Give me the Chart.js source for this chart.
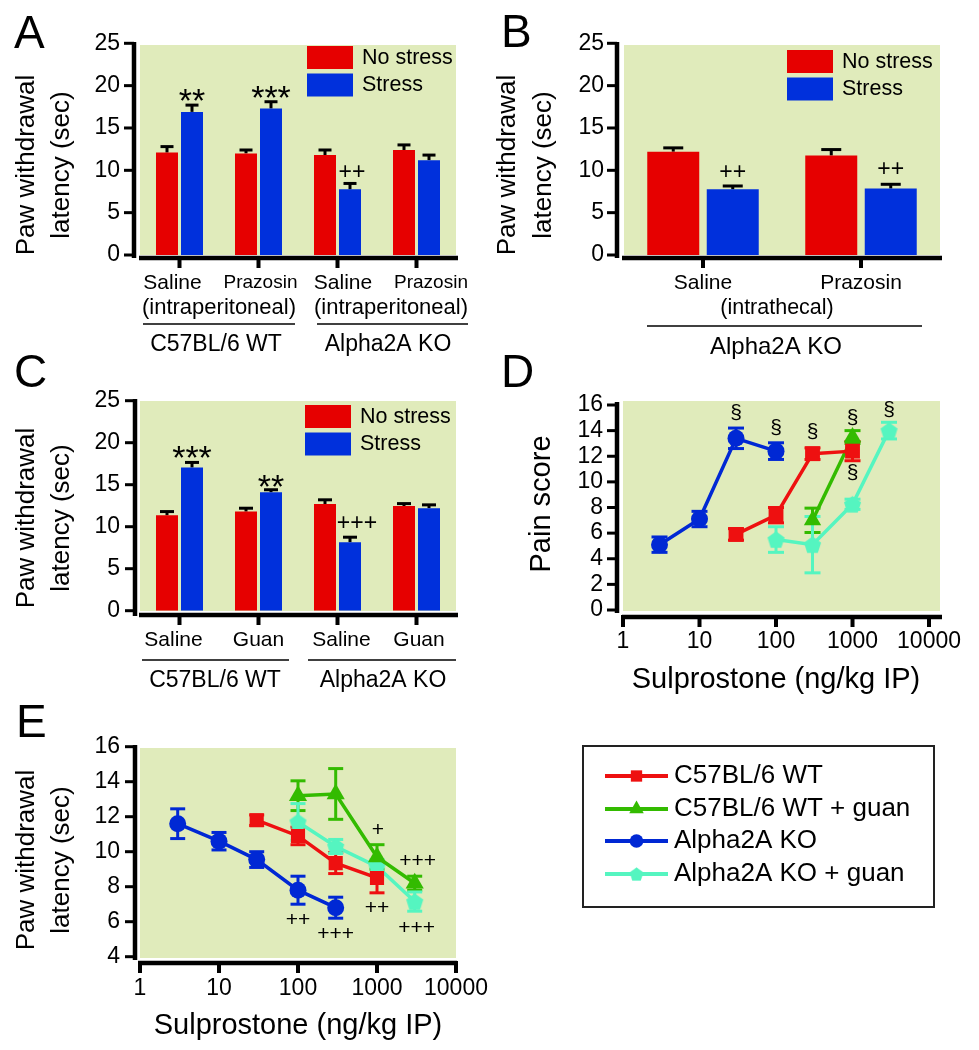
<!DOCTYPE html>
<html>
<head>
<meta charset="utf-8">
<script src="https://cdn.jsdelivr.net/npm/chart.js@4.4.1/dist/chart.umd.min.js"></script>
<style>
  html, body { margin: 0; padding: 0; background: #fff; }
  #fig { position: relative; width: 979px; height: 1050px; background: #fff; overflow: hidden; }
</style>
</head>
<body>
<div id="fig"></div>
<script>
// ---- values ----
const catsA = ['Saline', 'Prazosin', 'Saline', 'Prazosin'];
const noStressA = [12.1, 12.0, 11.8, 12.4];
const noStressErrA = [0.7, 0.4, 0.6, 0.6];
const stressA = [16.9, 17.3, 7.75, 11.2];
const stressErrA = [0.8, 0.8, 0.7, 0.6];

const catsB = ['Saline', 'Prazosin'];
const noStressB = [12.2, 11.75];
const noStressErrB = [0.45, 0.7];
const stressB = [7.75, 7.85];
const stressErrB = [0.4, 0.5];

const catsC = ['Saline', 'Guan', 'Saline', 'Guan'];
const noStressC = [11.35, 11.8, 12.7, 12.45];
const noStressErrC = [0.45, 0.4, 0.5, 0.3];
const stressC = [17.05, 14.1, 8.15, 12.2];
const stressErrC = [0.6, 0.3, 0.6, 0.4];

const doseTicks = [1, 10, 100, 1000, 10000];

// D - pain score
const doseD_wt = [30, 100, 300, 1000];
const painD_wt = [5.9, 7.4, 12.2, 12.4];
const painErrD_wt = [0.45, 0.6, 0.45, 0.75];
const doseD_wtGuan = [300, 1000];
const painD_wtGuan = [7.0, 13.5];
const painErrD_wtGuan = [0.95, 0.5];
const doseD_ko = [3, 10, 30, 100];
const painD_ko = [5.1, 7.1, 13.4, 12.4];
const painErrD_ko = [0.6, 0.6, 0.8, 0.65];
const doseD_koGuan = [100, 300, 1000, 3000];
const painD_koGuan = [5.5, 5.1, 8.25, 14.0];
const painErrD_koGuan = [1.0, 2.2, 0.4, 0.65];

// E - withdrawal latency
const doseE_wt = [30, 100, 300, 1000];
const latE_wt = [11.8, 10.9, 9.35, 8.5];
const latErrE_wt = [0.3, 0.5, 0.6, 0.85];
const doseE_wtGuan = [100, 300, 1000, 3000];
const latE_wtGuan = [13.2, 13.3, 9.7, 8.2];
const latErrE_wtGuan = [0.85, 1.45, 0.7, 0.4];
const doseE_ko = [3, 10, 30, 100, 300];
const latE_ko = [11.6, 10.6, 9.55, 7.8, 6.8];
const latErrE_ko = [0.85, 0.5, 0.45, 0.8, 0.6];
const doseE_koGuan = [100, 300, 1000, 3000];
const latE_koGuan = [11.7, 10.3, 9.15, 7.15];
const latErrE_koGuan = [1.05, 0.4, 0.4, 0.55];

// ---- styling ----
const FONT = "'Liberation Sans', Arial, Helvetica, sans-serif";
const PLOT_BG = '#e0ebbb';
const RED = '#e60000';
const BLUE = '#0030dc';
const RED_L = '#ee1010';
const GREEN_L = '#33bb00';
const BLUE_L = '#0028d4';
const CYAN_L = '#55f5c0';
const GLYPH_MID = { '*': 0.58, '+': 0.34, '§': 0.27 };

Chart.defaults.font.family = FONT;
Chart.defaults.color = '#000';

const pts = (xs, ys) => xs.map((x, i) => ({ x, y: ys[i] }));

function pentagon(color, size) {
  const c = document.createElement('canvas');
  c.width = c.height = size;
  const g = c.getContext('2d');
  const r = size / 2 - 0.5, cx = size / 2, cy = size / 2 + r * 0.095;
  g.fillStyle = color;
  g.beginPath();
  for (let k = 0; k < 5; k++) {
    const a = -Math.PI / 2 + k * 2 * Math.PI / 5;
    const px = cx + r * Math.cos(a), py = cy + r * Math.sin(a);
    if (k) g.lineTo(px, py); else g.moveTo(px, py);
  }
  g.closePath();
  g.fill();
  return c;
}
const PENTA = pentagon(CYAN_L, 19);

function drawMarker(ctx, style, r, x, y, color) {
  if (style instanceof HTMLCanvasElement) {
    const w = style.width * 0.8, h = style.height * 0.8;
    ctx.drawImage(style, x - w / 2, y - h / 2, w, h);
    return;
  }
  ctx.fillStyle = color;
  ctx.beginPath();
  if (style === 'circle') ctx.arc(x, y, r, 0, Math.PI * 2);
  else if (style === 'rect') { const s = r * Math.SQRT1_2; ctx.rect(x - s, y - s, 2 * s, 2 * s); }
  else if (style === 'triangle') {
    for (let k = 0; k < 3; k++) {
      const a = k * 2 * Math.PI / 3;
      const px = x + Math.sin(a) * r, py = y - Math.cos(a) * r;
      if (k) ctx.lineTo(px, py); else ctx.moveTo(px, py);
    }
    ctx.closePath();
  }
  ctx.fill();
}

function seg(ctx, x1, y1, x2, y2) {
  ctx.beginPath(); ctx.moveTo(x1, y1); ctx.lineTo(x2, y2); ctx.stroke();
}
function label(ctx, s, x, y, size, align, base) {
  ctx.font = size + 'px ' + FONT;
  ctx.textAlign = align || 'center';
  ctx.textBaseline = base || 'middle';
  ctx.fillText(s, x, y);
}

// Prism-style decoration: panel bg, offset axes, labels, error bars, legends
function decoPlugin(d) {
  const X = v => v - d.ox, Y = v => v - d.oy;
  return {
    id: 'deco',
    beforeDraw(chart) {
      const ctx = chart.ctx, b = d.bg;
      ctx.save();
      ctx.fillStyle = PLOT_BG;
      ctx.fillRect(X(b[0]), Y(b[1]), b[2] - b[0], b[3] - b[1]);
      ctx.restore();
    },
    beforeDatasetsDraw(chart) {
      const ctx = chart.ctx, ys = chart.scales.y, e = d.err;
      chart.data.datasets.forEach((ds, di) => {
        const meta = chart.getDatasetMeta(di);
        ctx.save();
        ctx.strokeStyle = e.color || ds.borderColor;
        ctx.lineWidth = e.width;
        meta.data.forEach((el, j) => {
          const raw = ds.data[j];
          const v = typeof raw === 'object' ? raw.y : raw;
          const top = ys.getPixelForValue(v + ds.err[j]);
          const bot = ys.getPixelForValue(e.twoSided ? v - ds.err[j] : v);
          seg(ctx, el.x, bot, el.x, top);
          seg(ctx, el.x - e.capHalf, top, el.x + e.capHalf, top);
          if (e.twoSided) seg(ctx, el.x - e.capHalf, bot, el.x + e.capHalf, bot);
        });
        ctx.restore();
      });
    },
    afterDraw(chart) {
      const ctx = chart.ctx, xs = chart.scales.x, ys = chart.scales.y, a = d.axes;
      ctx.save();
      ctx.strokeStyle = '#000';
      ctx.fillStyle = '#000';
      ctx.lineCap = 'butt';
      // axes
      ctx.lineWidth = 4.5;
      seg(ctx, X(a.yx), Y(a.y1), X(a.yx), Y(a.y2));
      seg(ctx, X(a.x1), Y(a.xy), X(a.x2), Y(a.xy));
      ctx.lineWidth = 3;
      ys.ticks.forEach(t => {
        const p = ys.getPixelForValue(t.value);
        seg(ctx, X(a.yx) - 10, p, X(a.yx), p);
      });
      ctx.lineWidth = 4;
      xs.ticks.forEach(t => {
        const p = xs.getPixelForValue(t.value);
        seg(ctx, p, Y(a.xy) - 2, p, Y(a.xy) + 10);
      });
      // panel letter
      label(ctx, d.letter.t, X(d.letter.x), Y(d.letter.y), 46, 'left', 'alphabetic');
      // y title
      const yt = d.yTitle;
      yt.lines.forEach((s, k) => {
        ctx.save();
        ctx.translate(X(yt.xs[k]), Y(yt.y));
        ctx.rotate(-Math.PI / 2);
        label(ctx, s, 0, 0, yt.size);
        ctx.restore();
      });
      // category labels and groups
      if (d.cat) {
        chart.data.labels.forEach((s, i) => {
          label(ctx, s, xs.getPixelForValue(i) + d.cat.dx[i], Y(d.cat.y), d.cat.sizes[i]);
        });
      }
      ctx.lineWidth = 1.5;
      (d.rules || []).forEach(r => seg(ctx, X(r.x1), Y(r.y), X(r.x2), Y(r.y)));
      (d.texts || []).forEach(t => label(ctx, t.t, X(t.x), Y(t.y), t.size));
      // bar legend
      if (d.legend) {
        const L = d.legend;
        chart.data.datasets.forEach((ds, k) => {
          const y0 = Y(L.y) + k * 27.5;
          ctx.fillStyle = ds.backgroundColor;
          ctx.fillRect(X(L.x), y0, 46, 23);
          ctx.fillStyle = '#000';
          label(ctx, ds.label, X(L.x) + 55, y0 + 12, 21.5, 'left');
        });
      }
      // significance marks
      (d.notes || []).forEach(n => {
        const x = (n.ds !== undefined ? chart.getDatasetMeta(n.ds).data[n.i].x : xs.getPixelForValue(n.x)) + (n.dx || 0);
        const y = ys.getPixelForValue(n.y) + n.size * (GLYPH_MID[n.t[0]] || 0.35);
        ctx.fillStyle = '#000';
        label(ctx, n.t, x, y, n.size, 'center', 'alphabetic');
      });
      // line legend (panel E)
      if (d.lineLegend) {
        const LL = d.lineLegend;
        ctx.lineWidth = 2;
        ctx.strokeStyle = '#222';
        ctx.strokeRect(X(LL.box[0]), Y(LL.box[1]), LL.box[2] - LL.box[0], LL.box[3] - LL.box[1]);
        chart.data.datasets.forEach((ds, k) => {
          const y = Y(LL.ys[k]);
          ctx.strokeStyle = ds.borderColor;
          ctx.lineWidth = 4;
          seg(ctx, X(LL.x1), y, X(LL.x2), y);
          drawMarker(ctx, ds.pointStyle, ds.pointRadius * 0.8, (X(LL.x1) + X(LL.x2)) / 2, y, ds.borderColor);
          ctx.fillStyle = '#000';
          label(ctx, ds.label, X(LL.tx), y, LL.size, 'left');
        });
      }
      ctx.restore();
    }
  };
}

function makeCanvas(box) {
  const c = document.createElement('canvas');
  c.width = box.w; c.height = box.h;
  c.style.cssText = `position:absolute;left:${box.left}px;top:${box.top}px;width:${box.w}px;height:${box.h}px`;
  document.getElementById('fig').appendChild(c);
  return c;
}

function baseOptions(box, area, d) {
  d.ox = box.left; d.oy = box.top;
  return {
    responsive: false,
    animation: false,
    devicePixelRatio: 1,
    layout: { padding: { left: 0, top: area.top - box.top, right: box.left + box.w - area.right, bottom: 0 } },
    plugins: { legend: { display: false }, tooltip: { enabled: false } }
  };
}

function yScale(box, area, min, max, step) {
  return {
    min, max,
    afterBuildTicks: s => {
      const t = [];
      for (let v = min; v <= max + 1e-9; v += step) t.push({ value: v });
      s.ticks = t;
    },
    ticks: { stepSize: step, padding: 20, font: { size: 23 }, color: '#000', autoSkip: false },
    grid: { display: false, drawTicks: false },
    border: { display: false },
    afterFit: s => { s.width = area.left - box.left; }
  };
}

function barPanel(box, area, cats, noStress, noStressErr, stress, stressErr, pct, d) {
  const opts = baseOptions(box, area, d);
  opts.scales = {
    x: {
      ticks: { display: false },
      grid: { display: false, drawTicks: false },
      border: { display: false },
      afterFit: s => { s.height = box.top + box.h - area.bottom; }
    },
    y: yScale(box, area, 0, 25, 5)
  };
  return new Chart(makeCanvas(box), {
    type: 'bar',
    data: {
      labels: cats,
      datasets: [
        { label: 'No stress', data: noStress, err: noStressErr, backgroundColor: RED, borderWidth: 0,
          categoryPercentage: pct[0], barPercentage: pct[1] },
        { label: 'Stress', data: stress, err: stressErr, backgroundColor: BLUE, borderWidth: 0,
          categoryPercentage: pct[0], barPercentage: pct[1] }
      ]
    },
    options: opts,
    plugins: [decoPlugin(d)]
  });
}

function lineSet(lbl, xs, ys, err, color, style, r) {
  return {
    label: lbl, data: pts(xs, ys), err,
    borderColor: color, backgroundColor: color, borderWidth: 3.5, tension: 0, fill: false,
    pointStyle: style, pointRadius: r, pointHoverRadius: r,
    pointBackgroundColor: color, pointBorderColor: color, pointBorderWidth: 0
  };
}

function linePanel(box, area, datasets, yMin, yMax, d, titlePad) {
  const opts = baseOptions(box, area, d);
  opts.scales = {
    x: {
      type: 'logarithmic', min: 1, max: 10000,
      afterBuildTicks: s => { s.ticks = doseTicks.map(v => ({ value: v })); },
      ticks: { callback: v => String(v), padding: 18, font: { size: 23 }, color: '#000', autoSkip: false, maxRotation: 0 },
      grid: { display: false, drawTicks: false },
      border: { display: false },
      title: { display: true, text: 'Sulprostone (ng/kg IP)', font: { size: 29 }, color: '#000', padding: { top: 0, bottom: titlePad } },
      afterFit: s => { s.height = box.top + box.h - area.bottom; }
    },
    y: yScale(box, area, yMin, yMax, 2)
  };
  return new Chart(makeCanvas(box), {
    type: 'line',
    data: { datasets },
    options: opts,
    plugins: [decoPlugin(d)]
  });
}

const twoLineTitle = ['Paw withdrawal', 'latency (sec)'];

// ---- A ----
barPanel({ left: 0, top: 0, w: 480, h: 360 }, { left: 140, top: 43.3, right: 456, bottom: 255 },
  catsA, noStressA, noStressErrA, stressA, stressErrA, [0.633, 0.88], {
    bg: [140, 45, 456, 255],
    axes: { yx: 134, y1: 42, y2: 258, xy: 258, x1: 139, x2: 458 },
    letter: { t: 'A', x: 14, y: 48 },
    yTitle: { lines: twoLineTitle, xs: [27, 62], y: 165, size: 26 },
    cat: { y: 283, dx: [-7, 2, 5.5, 14.5], sizes: [21, 19, 21, 19] },
    rules: [{ x1: 143, x2: 295, y: 324 }, { x1: 317, x2: 468, y: 324 }],
    texts: [
      { t: '(intraperitoneal)', x: 219, y: 308, size: 22 },
      { t: '(intraperitoneal)', x: 391, y: 308, size: 22 },
      { t: 'C57BL/6 WT', x: 216, y: 345, size: 23 },
      { t: 'Alpha2A KO', x: 388, y: 345, size: 23 }
    ],
    legend: { x: 307, y: 46 },
    err: { capHalf: 6.5, width: 3, color: '#000' },
    notes: [
      { ds: 1, i: 0, t: '**', y: 19.16, size: 34 },
      { ds: 1, i: 1, t: '***', y: 19.58, size: 34 },
      { ds: 1, i: 2, t: '++', y: 9.9, size: 23, dx: 2 }
    ]
  });

// ---- B ----
barPanel({ left: 480, top: 0, w: 499, h: 360 }, { left: 624, top: 43.3, right: 940, bottom: 255 },
  catsB, noStressB, noStressErrB, stressB, stressErrB, [0.753, 0.874], {
    bg: [624, 45, 940, 255],
    axes: { yx: 617, y1: 42, y2: 258, xy: 258, x1: 622, x2: 942 },
    letter: { t: 'B', x: 501, y: 47 },
    yTitle: { lines: twoLineTitle, xs: [508, 544], y: 165, size: 26 },
    cat: { y: 283, dx: [0, 0], sizes: [21, 21] },
    rules: [{ x1: 647, x2: 922, y: 326 }],
    texts: [
      { t: '(intrathecal)', x: 777, y: 308, size: 21.5 },
      { t: 'Alpha2A KO', x: 776, y: 347, size: 24 }
    ],
    legend: { x: 787, y: 50 },
    err: { capHalf: 10, width: 3, color: '#000' },
    notes: [
      { ds: 1, i: 0, t: '++', y: 9.9, size: 23 },
      { ds: 1, i: 1, t: '++', y: 10.3, size: 23 }
    ]
  });

// ---- C ----
barPanel({ left: 0, top: 340, w: 480, h: 360 }, { left: 140, top: 400.7, right: 456, bottom: 610.7 },
  catsC, noStressC, noStressErrC, stressC, stressErrC, [0.633, 0.88], {
    bg: [140, 401, 456, 611],
    axes: { yx: 135, y1: 399, y2: 616, xy: 615, x1: 139, x2: 458 },
    letter: { t: 'C', x: 14, y: 387 },
    yTitle: { lines: twoLineTitle, xs: [27, 62], y: 518, size: 26 },
    cat: { y: 640, dx: [-6, 0, 4, 2.5], sizes: [21, 21, 21, 21] },
    rules: [{ x1: 142, x2: 289, y: 660 }, { x1: 308, x2: 456, y: 660 }],
    texts: [
      { t: 'C57BL/6 WT', x: 215, y: 681, size: 23 },
      { t: 'Alpha2A KO', x: 383, y: 681, size: 23 }
    ],
    legend: { x: 305, y: 405 },
    err: { capHalf: 7, width: 3, color: '#000' },
    notes: [
      { ds: 1, i: 0, t: '***', y: 19.25, size: 34 },
      { ds: 1, i: 1, t: '**', y: 15.74, size: 34 },
      { ds: 1, i: 2, t: '+++', y: 10.56, size: 23, dx: 7 }
    ]
  });

// ---- D ----
linePanel({ left: 480, top: 340, w: 499, h: 360 }, { left: 623, top: 405, right: 940, bottom: 610 }, [
  lineSet('C57BL/6 WT', doseD_wt, painD_wt, painErrD_wt, RED_L, 'rect', 10.5),
  lineSet('C57BL/6 WT + guan', doseD_wtGuan, painD_wtGuan, painErrD_wtGuan, GREEN_L, 'triangle', 10),
  lineSet('Alpha2A KO', doseD_ko, painD_ko, painErrD_ko, BLUE_L, 'circle', 8.5),
  lineSet('Alpha2A KO + guan', doseD_koGuan, painD_koGuan, painErrD_koGuan, CYAN_L, PENTA, 9.5)
], 0, 16, {
  bg: [623, 401, 940, 611],
  axes: { yx: 617, y1: 402, y2: 613, xy: 617, x1: 622, x2: 942 },
  letter: { t: 'D', x: 501, y: 387 },
  yTitle: { lines: ['Pain score'], xs: [542], y: 504, size: 29 },
  err: { capHalf: 8, width: 3, twoSided: true },
  notes: [
    { x: 30, y: 15.38, t: '§', size: 21 },
    { x: 100, y: 14.2, t: '§', size: 21 },
    { x: 300, y: 13.84, t: '§', size: 21 },
    { x: 1000, y: 14.96, t: '§', size: 21 },
    { x: 3000, y: 15.6, t: '§', size: 21 },
    { x: 1000, y: 10.67, t: '§', size: 21 }
  ]
}, 3);

// ---- E ----
linePanel({ left: 0, top: 690, w: 979, h: 360 }, { left: 140, top: 746.7, right: 456, bottom: 956.7 }, [
  lineSet('C57BL/6 WT', doseE_wt, latE_wt, latErrE_wt, RED_L, 'rect', 10),
  lineSet('C57BL/6 WT + guan', doseE_wtGuan, latE_wtGuan, latErrE_wtGuan, GREEN_L, 'triangle', 10.5),
  lineSet('Alpha2A KO', doseE_ko, latE_ko, latErrE_ko, BLUE_L, 'circle', 8.5),
  lineSet('Alpha2A KO + guan', doseE_koGuan, latE_koGuan, latErrE_koGuan, CYAN_L, PENTA, 9.5)
], 4, 16, {
  bg: [140, 748, 456, 958],
  axes: { yx: 135, y1: 745, y2: 960, xy: 963, x1: 138, x2: 457 },
  letter: { t: 'E', x: 16, y: 737 },
  yTitle: { lines: twoLineTitle, xs: [27, 62], y: 860, size: 26 },
  err: { capHalf: 7.5, width: 3, twoSided: true },
  notes: [
    { x: 100, y: 6.14, t: '++', size: 21 },
    { x: 300, y: 5.39, t: '+++', size: 21 },
    { x: 1000, y: 11.28, t: '+', size: 21, dx: 1 },
    { x: 3000, y: 9.53, t: '+++', size: 21, dx: 3 },
    { x: 1000, y: 6.86, t: '++', size: 21 },
    { x: 3000, y: 5.68, t: '+++', size: 21, dx: 2 }
  ],
  lineLegend: { box: [583, 746, 934, 907], x1: 605, x2: 668, tx: 674, ys: [776, 809, 841, 874], size: 26 }
}, 7);
</script>
</body>
</html>
